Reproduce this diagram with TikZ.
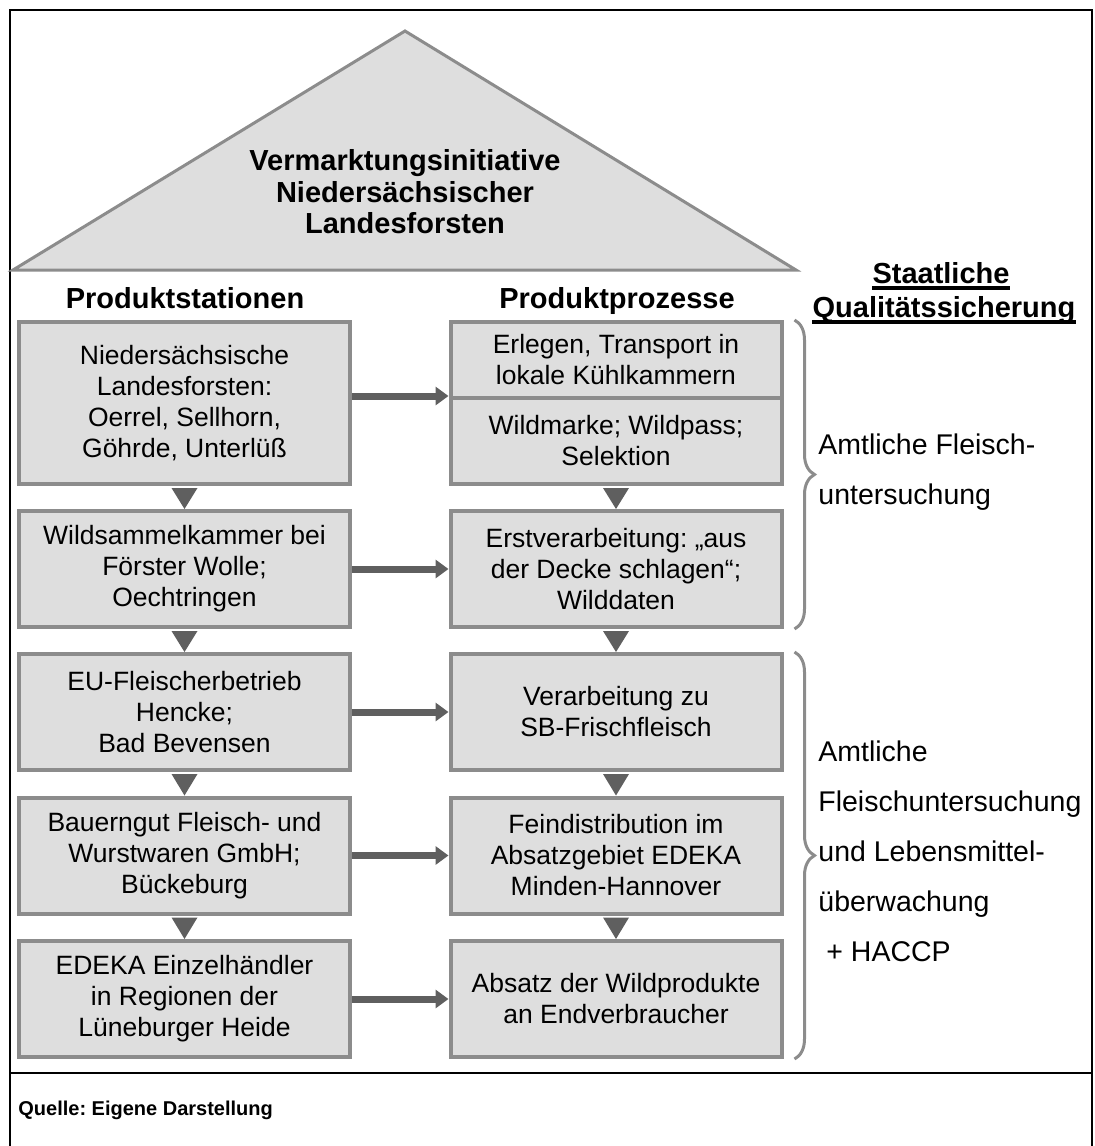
\documentclass[tikz,border=0pt]{standalone}
\usepackage{fontspec}
\setmainfont{Liberation Sans}
\usetikzlibrary{arrows.meta,calc,decorations.pathreplacing}
\definecolor{boxfill}{HTML}{DEDEDE}
\definecolor{boxline}{HTML}{8C8C8C}
\definecolor{markgray}{HTML}{5F5F5F}
\frenchspacing
\begin{document}
\begin{tikzpicture}[x=0.5pt,y=-0.5pt,
		stage/.style={draw=boxline,fill=boxfill,line width=2pt,minimum width=165.5pt,minimum height=58pt,align=center,inner sep=2pt,font=\fontsize{13.25}{15.5}\selectfont},
		head/.style={anchor=base,inner sep=0pt,font=\bfseries\fontsize{14.5}{15.75}\selectfont},
		qtext/.style={anchor=west,inner sep=0pt,align=left,font=\fontsize{14.25}{25}\selectfont},
		flow/.style={markgray,line width=3.5pt,-{Triangle[width=9pt,length=6.5pt]}},
		qbrace/.style={boxline,line width=1.5pt,decorate,decoration={brace,amplitude=10pt}}]
		\useasboundingbox (0,0) rectangle (1095,1146);
		\draw[line width=1pt] (10,1146) -- (10,10) -- (1092,10) -- (1092,1146);
		\draw[line width=1pt] (10,1073) -- (1092,1073);
		\filldraw[fill=boxfill,draw=boxline,line width=1.5pt] (13,270) -- (405,31) -- (796,270) -- cycle;
		\node[head,anchor=center,align=center] (init) at (405,192) {Vermarktungsinitiative\\Niedersächsischer\\Landesforsten};
		\node[head] (hs) at (185,308) {Produktstationen};
		\node[head] (hp) at (617,308) {Produktprozesse};
		\node[head] (qa) at (941,283) {Staatliche};
		\node[head] (qb) at (944,317) {Qualitätssicherung};
		\draw[line width=1.8pt] ($(qa.base west)+(0,5)$) -- ($(qa.base east)+(0,5)$);
		\draw[line width=1.8pt] ($(qb.base west)+(0,5)$) -- ($(qb.base east)+(0,5)$);
		\node[stage,minimum height=81pt] (l1) at (184.5,403) {Niedersächsische\\Landesforsten:\\Oerrel, Sellhorn,\\Göhrde, Unterlüß};
		\node[stage] (l2) at (184.5,569) {Wildsammelkammer bei\\Förster Wolle;\\Oechtringen};
		\node[stage] (l3) at (184.5,712) {EU-Fleischerbetrieb\\Hencke;\\Bad Bevensen};
		\node[stage] (l4) at (184.5,855.5) {Bauerngut Fleisch- und\\Wurstwaren GmbH;\\Bückeburg};
		\node[stage] (l5) at (184.5,999) {EDEKA Einzelhändler\\in Regionen der\\Lüneburger Heide};
		\node[stage,minimum height=38pt] (p1a) at (616,360) {Erlegen, Transport in\\lokale Kühlkammern};
		\node[stage,minimum height=43pt] (p1b) at (616,441) {Wildmarke; Wildpass;\\Selektion};
		\node[stage] (p2) at (616,569) {Erstverarbeitung: „aus\\der Decke schlagen“;\\Wilddaten};
		\node[stage] (p3) at (616,712) {Verarbeitung zu\\SB-Frischfleisch};
		\node[stage] (p4) at (616,855.5) {Feindistribution im\\Absatzgebiet EDEKA\\Minden-Hannover};
		\node[stage] (p5) at (616,999) {Absatz der Wildprodukte\\an Endverbraucher};
		\foreach \a/\b in {l1/l2,l2/l3,l3/l4,l4/l5,p1b/p2,p2/p3,p3/p4,p4/p5}
			\fill[markgray] ($(\a.south)+(-13,2)$) -- ($(\a.south)+(13,2)$) -- (\b.north) -- cycle;
		\draw[flow] (l1.east |- p1b.north) -- (p1b.north west);
		\foreach \a/\b in {l2/p2,l3/p3,l4/p4,l5/p5}
			\draw[flow] (\a) -- (\b);
		\draw[qbrace] ($(p1a.north east)+(11,0)$) -- ($(p2.south east)+(11,0)$);
		\draw[qbrace] ($(p3.north east)+(11,0)$) -- ($(p5.south east)+(11,0)$);
		\node[qtext] (qf) at (818,472) {Amtliche Fleisch-\\untersuchung};
		\node[qtext] (ql) at (818,851) {Amtliche\\Fleischuntersuchung\\und Lebensmittel-\\überwachung\\\hspace*{4pt}+ HACCP};
		\node[anchor=west,inner sep=0pt,font=\bfseries\fontsize{10}{12}\selectfont] (src) at (18,1110) {Quelle: Eigene Darstellung};
	\end{tikzpicture}
\end{document}
